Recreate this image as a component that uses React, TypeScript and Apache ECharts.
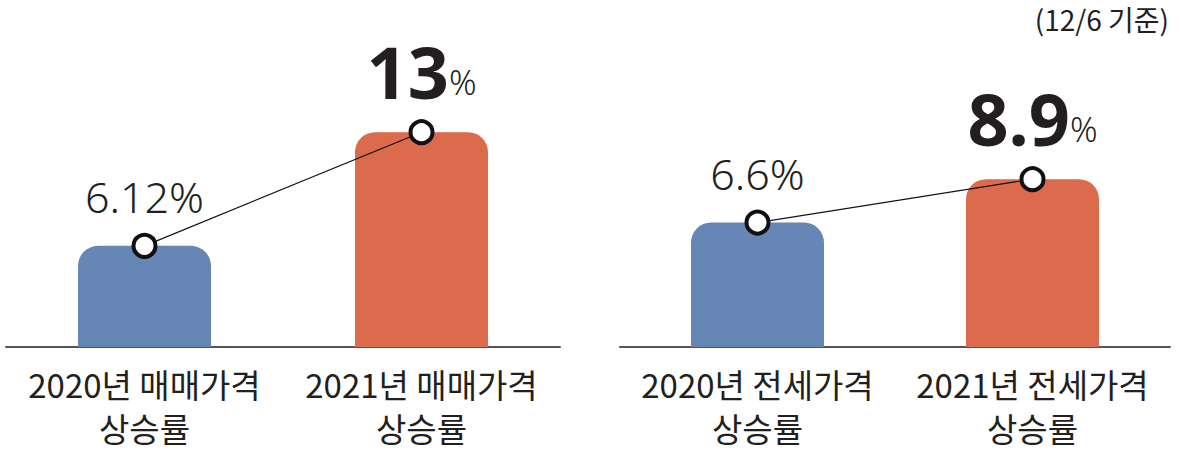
import React, { useEffect, useRef } from "react";
import * as echarts from "echarts";

const leftCategories = ["2020년 매매가격\n상승률", "2021년 매매가격\n상승률"];
const leftValues = [6.12, 13];
const leftLabels = ["6.12", "13"];
const rightCategories = ["2020년 전세가격\n상승률", "2021년 전세가격\n상승률"];
const rightValues = [6.6, 8.9];
const rightLabels = ["6.6", "8.9"];
const barColors = ["#6686b6", "#dc6a4c"];
const note = "(12/6 기준)";

const FONT = "'Noto Sans CJK KR', 'Noto Sans', sans-serif";
const NUMFONT = "'Noto Sans', 'Noto Sans CJK KR', sans-serif";

function barSeries(values: number[], idx: number) {
  return {
    type: "bar",
    xAxisIndex: idx,
    yAxisIndex: idx,
    barWidth: 133,
    data: values.map((v, i) => ({
      value: v,
      itemStyle: { color: barColors[i], borderRadius: [20, 20, 0, 0] },
    })),
    z: 1,
  };
}

function lineSeries(values: number[], labels: string[], idx: number) {
  return {
    type: "line",
    xAxisIndex: idx,
    yAxisIndex: idx,
    symbol: "circle",
    symbolSize: 22,
    itemStyle: { color: "#ffffff", borderColor: "#111111", borderWidth: 4 },
    lineStyle: { color: "#111111", width: 1.2 },
    z: 5,
    data: values.map((v, i) => ({
      value: v,
      label: {
        show: true,
        position: "top",
        distance: i === 0 ? 14 : 12,
        formatter: i === 0 ? "{n|" + labels[i] + "%}" : "{b|" + labels[i] + "}{p|%}",
        rich: {
          n: { fontFamily: NUMFONT, fontSize: 43, fontWeight: 300, color: "#231f20", lineHeight: 44 },
          b: { fontFamily: NUMFONT, fontSize: 72, fontWeight: "bold", color: "#231f20", lineHeight: 64, verticalAlign: "bottom" },
          p: { fontFamily: NUMFONT, fontSize: 34, fontWeight: 300, color: "#231f20", lineHeight: 40, verticalAlign: "bottom", padding: [0, 0, 8, 0] },
        },
      },
    })),
  };
}

export default function App() {
  const ref = useRef<HTMLDivElement>(null);
  useEffect(() => {
    document.body.style.margin = "0";
    const chart = echarts.init(ref.current!, null, { renderer: "svg" });
    const xAxisCommon = {
      type: "category",
      axisTick: { show: false },
      axisLine: { lineStyle: { color: "#555555", width: 2 } },
      axisLabel: {
        fontFamily: FONT,
        fontSize: 33,
        color: "#231f20",
        lineHeight: 44,
        margin: 15,
        interval: 0,
      },
    };
    chart.setOption({
      animation: false,
      backgroundColor: "#ffffff",
      title: {
        text: note,
        right: 6,
        top: 0,
        textStyle: { fontFamily: FONT, fontSize: 28, fontWeight: "normal", color: "#231f20" },
      },
      grid: [
        { left: 6, width: 554, top: 0, bottom: 104 },
        { left: 620, width: 550, top: 0, bottom: 104 },
      ],
      xAxis: [
        { ...xAxisCommon, gridIndex: 0, data: leftCategories },
        { ...xAxisCommon, gridIndex: 1, data: rightCategories },
      ],
      yAxis: [
        { type: "value", gridIndex: 0, min: 0, max: 21, show: false },
        { type: "value", gridIndex: 1, min: 0, max: 18.4, show: false },
      ],
      series: [
        barSeries(leftValues, 0),
        barSeries(rightValues, 1),
        lineSeries(leftValues, leftLabels, 0),
        lineSeries(rightValues, rightLabels, 1),
      ],
    });
    return () => chart.dispose();
  }, []);
  return <div ref={ref} style={{ width: 1180, height: 451 }} />;
}
